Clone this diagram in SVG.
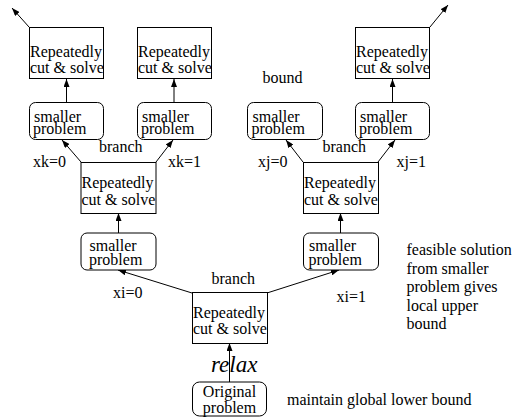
<svg xmlns="http://www.w3.org/2000/svg" width="515" height="418" viewBox="0 0 515 418">
<style>
  .box { fill: #ffffff; stroke: #000000; stroke-width: 1; }
  .t { font-family: "Liberation Serif", "Times New Roman", serif; font-size: 16px; fill: #000000; }
  .c { text-anchor: middle; }
  .conn { stroke: #000000; stroke-width: 1; fill: none; marker-end: url(#ah); }
</style>
<defs>
  <marker id="ah" markerWidth="8" markerHeight="6" refX="8" refY="3" orient="auto" markerUnits="userSpaceOnUse">
    <path d="M0,0 L8,3 L0,6 z" fill="#000000"/>
  </marker>
</defs>
<rect width="515" height="418" fill="#ffffff"/>

<g id="connectors">
  <line class="conn" x1="29" y1="27" x2="12" y2="8"/>
  <line class="conn" x1="430" y1="27" x2="448" y2="5"/>
  <line class="conn" x1="66.5" y1="102" x2="66.5" y2="79"/>
  <line class="conn" x1="174" y1="102" x2="174" y2="79"/>
  <line class="conn" x1="392.5" y1="102" x2="392.5" y2="79"/>
  <line class="conn" x1="81" y1="162" x2="62" y2="140"/>
  <line class="conn" x1="156" y1="162" x2="173" y2="140"/>
  <line class="conn" x1="303" y1="162" x2="286" y2="140"/>
  <line class="conn" x1="378" y1="162" x2="395" y2="140"/>
  <line class="conn" x1="118.5" y1="233" x2="118.5" y2="213"/>
  <line class="conn" x1="340.5" y1="233" x2="340.5" y2="213"/>
  <line class="conn" x1="192" y1="293" x2="118" y2="270"/>
  <line class="conn" x1="267" y1="293" x2="339" y2="270"/>
  <line class="conn" x1="229.5" y1="382" x2="229.5" y2="343"/>
</g>

<g id="cut1">
  <rect class="box" x="29.5" y="27.5" width="74" height="51"/>
  <text class="t" x="30" y="56.5">Repeatedly</text>
  <text class="t" x="30" y="72.5">cut &amp; solve</text>
</g>
<g id="cut2">
  <rect class="box" x="137.5" y="27.5" width="74" height="51"/>
  <text class="t" x="138" y="56.5">Repeatedly</text>
  <text class="t" x="138" y="72.5">cut &amp; solve</text>
</g>
<g id="cut3">
  <rect class="box" x="355.5" y="27.5" width="74" height="51"/>
  <text class="t" x="356" y="56.5">Repeatedly</text>
  <text class="t" x="356" y="72.5">cut &amp; solve</text>
</g>

<g id="small1">
  <rect class="box" x="29.5" y="102.5" width="74" height="37" rx="6"/>
  <text class="t" x="34" y="122">smaller</text>
  <text class="t" x="33" y="134">problem</text>
</g>
<g id="small2">
  <rect class="box" x="137.5" y="102.5" width="74" height="37" rx="6"/>
  <text class="t" x="142" y="122">smaller</text>
  <text class="t" x="141" y="134">problem</text>
</g>
<g id="small3">
  <rect class="box" x="247.5" y="102.5" width="75" height="37" rx="6"/>
  <text class="t" x="252.5" y="122">smaller</text>
  <text class="t" x="251.5" y="134">problem</text>
</g>
<g id="small4">
  <rect class="box" x="355.5" y="102.5" width="74" height="37" rx="6"/>
  <text class="t" x="360" y="122">smaller</text>
  <text class="t" x="359" y="134">problem</text>
</g>

<g id="cut4">
  <rect class="box" x="81" y="162.5" width="75" height="51"/>
  <text class="t" x="81.5" y="188">Repeatedly</text>
  <text class="t" x="81.5" y="204.5">cut &amp; solve</text>
</g>
<g id="cut5">
  <rect class="box" x="303.5" y="162.5" width="75" height="51"/>
  <text class="t" x="304" y="188">Repeatedly</text>
  <text class="t" x="304" y="204.5">cut &amp; solve</text>
</g>

<g id="small5">
  <rect class="box" x="81" y="233" width="75" height="37" rx="6"/>
  <text class="t" x="89.5" y="251">smaller</text>
  <text class="t" x="89" y="264.5">problem</text>
</g>
<g id="small6">
  <rect class="box" x="303.5" y="233" width="75" height="37" rx="6"/>
  <text class="t" x="309" y="251">smaller</text>
  <text class="t" x="308.5" y="264.5">problem</text>
</g>

<g id="cut6">
  <rect class="box" x="192.5" y="292.5" width="75" height="51"/>
  <text class="t" x="193" y="317.5">Repeatedly</text>
  <text class="t" x="193" y="334">cut &amp; solve</text>
</g>

<g id="original">
  <rect class="box" x="192.5" y="382" width="74" height="34" rx="7"/>
  <text class="t c" x="229.5" y="397">Original</text>
  <text class="t c" x="229.5" y="413">problem</text>
</g>

<g id="labels">
  <text class="t" x="262.5" y="83">bound</text>
  <text class="t" x="99" y="151.5">branch</text>
  <text class="t" x="322.5" y="151.5">branch</text>
  <text class="t" x="211.5" y="283.5">branch</text>
  <text class="t" x="33" y="166.5">xk=0</text>
  <text class="t" x="168" y="166.5">xk=1</text>
  <text class="t" x="258" y="166.5">xj=0</text>
  <text class="t" x="396.5" y="166.5">xj=1</text>
  <text class="t" x="113" y="297.5">xi=0</text>
  <text class="t" x="336.5" y="301.5">xi=1</text>
  <text class="t" x="211" y="371.5" style="font-size:23px;font-style:italic">relax</text>
  <text class="t" x="406.5" y="255">feasible solution</text>
  <text class="t" x="406.5" y="273.5">from smaller</text>
  <text class="t" x="406.5" y="292">problem gives</text>
  <text class="t" x="406.5" y="310.5">local upper</text>
  <text class="t" x="406.5" y="329">bound</text>
  <text class="t" x="287" y="405">maintain global lower bound</text>
</g>
</svg>
